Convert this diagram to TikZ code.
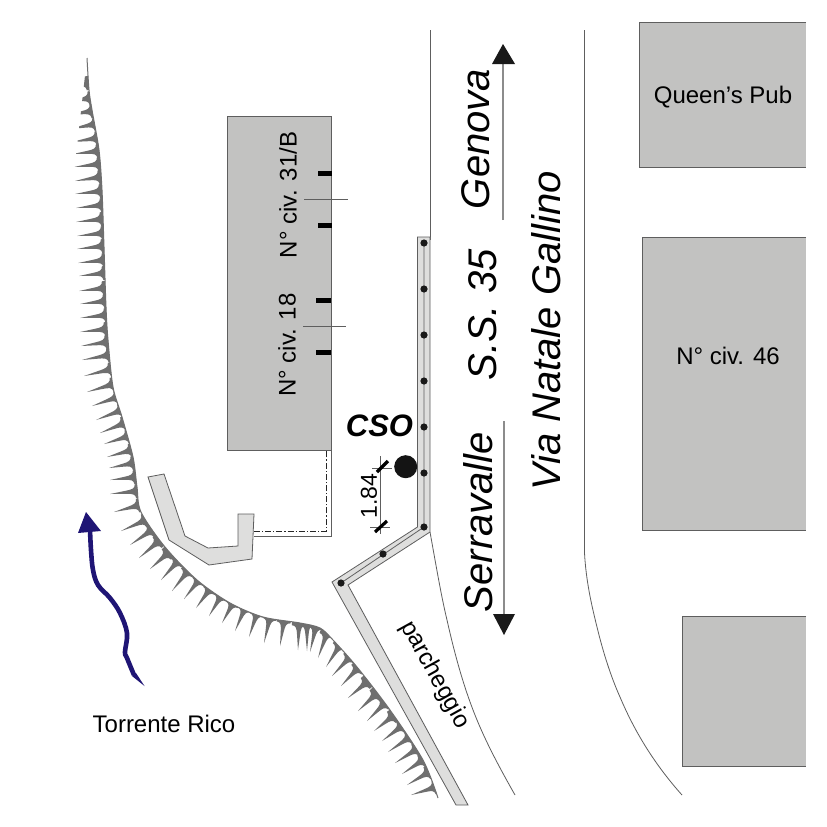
\documentclass[tikz,border=0pt]{standalone}
\usepackage{fontspec}
\setmainfont{Liberation Sans}
\usetikzlibrary{calc}
\definecolor{bldg}{HTML}{C2C2C1}
\definecolor{walk}{HTML}{DEDEDD}
\definecolor{edge}{HTML}{5E5E5E}
\definecolor{bank}{HTML}{6F6F6F}
\definecolor{river}{HTML}{1F1575}
\newcommand{\fs}[1]{\fontsize{#1}{#1}\selectfont}
\tikzset{
  x=1pt,y=-1pt,
  thinline/.style={draw=edge,line width=0.8pt},
  building/.style={fill=bldg,draw=none},
  buildedge/.style={draw=edge,line width=1pt},
  paved/.style={fill=walk,draw=edge,line width=0.8pt,line join=miter},
  doorbar/.style={draw=black,line width=5pt},
  roadarrow/.style={draw=black!45,line width=1.1pt},
  head/.style={fill=black!90,draw=none},
  label/.style={inner sep=0pt,outer sep=0pt,anchor=center},
  small/.style={label,font=\fs{24}},
  big/.style={label,font=\fs{40}\itshape},
  stud/.style={circle,fill=black!90,minimum size=7.2pt,inner sep=0pt},
}
\newcommand{\tooth}[4]{%
  \pgfmathsetmacro\dxx{#3-#1}\pgfmathsetmacro\dyy{#4-#2}%
  \pgfmathsetmacro\lenn{veclen(\dxx,\dyy)}%
  \pgfmathsetmacro\ux{\dxx/\lenn}\pgfmathsetmacro\uy{\dyy/\lenn}%
  \pgfmathsetmacro\nx{-\uy}\pgfmathsetmacro\ny{\ux}%
  \pgfmathsetmacro\ax{#1+0.55*\dxx+1.5*\nx}\pgfmathsetmacro\ay{#2+0.55*\dyy+1.5*\ny}%
  \pgfmathsetmacro\bx{#1+0.55*\dxx-1.5*\nx}\pgfmathsetmacro\by{#2+0.55*\dyy-1.5*\ny}%
  \pgfmathsetmacro\pax{#1+0.80*\dxx+2.1*\nx}\pgfmathsetmacro\pay{#2+0.80*\dyy+2.1*\ny}%
  \pgfmathsetmacro\pbx{#1+0.90*\dxx+2.8*\nx}\pgfmathsetmacro\pby{#2+0.90*\dyy+2.8*\ny}%
  \pgfmathsetmacro\qax{#1+0.80*\dxx-2.1*\nx}\pgfmathsetmacro\qay{#2+0.80*\dyy-2.1*\ny}%
  \pgfmathsetmacro\qbx{#1+0.90*\dxx-2.8*\nx}\pgfmathsetmacro\qby{#2+0.90*\dyy-2.8*\ny}%
  \pgfmathsetmacro\cx{#1+0.91*\dxx+7*\nx}\pgfmathsetmacro\cy{#2+0.91*\dyy+7*\ny}%
  \pgfmathsetmacro\ex{#1+0.91*\dxx-7*\nx}\pgfmathsetmacro\ey{#2+0.91*\dyy-7*\ny}%
  \pgfmathsetmacro\fx{#3+3*\ux+7*\nx}\pgfmathsetmacro\fy{#4+3*\uy+7*\ny}%
  \pgfmathsetmacro\gx{#3+3*\ux-7*\nx}\pgfmathsetmacro\gy{#4+3*\uy-7*\ny}%
  \fill[bank] (#1,#2) -- (\ax,\ay) .. controls (\pax,\pay) and (\pbx,\pby) .. (\cx,\cy)
     -- (\fx,\fy) -- (\gx,\gy) -- (\ex,\ey) .. controls (\qbx,\qby) and (\qax,\qay) .. (\bx,\by) -- cycle;
}
\begin{document}
\begin{tikzpicture}
\useasboundingbox (0,0) rectangle (827,827);
\fill[white] (0,0) rectangle (827,827);

% river bank
\begin{scope}
\clip (0,0) -- (87,0) -- (87,58) plot[smooth,tension=0.5] coordinates {(87,58) (89,90) (92,110) (99,150) (102,190) (104,247) (106,307) (108,340) (113,387) (122,417) (133,457) (137,487) (141,512) (165,547) (197,580) (230,603) (263,617) (300,623) (320,628) (333,640) (357,667) (390,710) (423,760) (438,798)} -- (438,827) -- (0,827) -- cycle;
\foreach \a/\b/\c/\d in {
63/87/88/83, 65/102/91/98, 67/115/93/111, 70/129/96/124, 72/142/98/138, 73/154/99/151,
74/167/100/164, 75/181/101/177, 75/194/102/191, 76/208/103/205, 76/222/103/219, 77/236/104/233,
77/249/104/246, 78/263/105/260, 79/276/105/273, 79/291/105/288, 80/304/106/301, 80/318/107/315,
80/332/107/329, 81/346/108/342, 82/360/110/355, 84/376/112/369, 87/392/114/384, 92/406/118/397,
96/420/122/410, 100/433/125/423, 104/444/129/436, 107/457/132/450, 109/468/134/463, 110/480/136/477,
110/494/138/491, 114/512/140/505, 121/531/146/520, 130/545/152/530, 139/558/159/541, 150/569/168/553,
161/580/178/561, 172/591/188/571, 184/599/199/580, 196/608/210/589, 209/616/221/596, 222/623/233/603,
235/631/245/608, 249/637/257/613, 264/643/270/617, 280/646/284/620, 298/650/299/623, 307/651/307/623,
310/652/316/626, 318/658/327/633, 326/667/340/645, 332/676/350/657, 341/686/358/668, 348/698/367/682,
358/711/376/694, 367/721/385/703, 374/731/393/716, 382/741/402/726, 388/752/410/737, 395/763/417/749,
402/774/423/760, 407/785/429/772, 411/795/436/787}
{\tooth{\a}{\b}{\c}{\d}}
\end{scope}
\draw[bank,line width=1pt] plot[smooth,tension=0.5] coordinates {(87,58) (89,90) (92,110) (99,150) (102,190) (104,247) (106,307) (108,340) (113,387) (122,417) (133,457) (137,487) (141,512) (165,547) (197,580) (230,603) (263,617) (300,623) (320,628) (333,640) (357,667) (390,710) (423,760) (438,798)};

% river arrow
\draw[river,line width=4.6pt,line join=round] plot[smooth,tension=0.6] coordinates {(134,675) (127,658) (125,652) (127,633) (120,613) (110,598) (98,585) (93,570) (91,550) (90,530)};
\fill[river] (144.5,686) -- (132,676) -- (136,673) -- cycle;
\fill[river] (86,512) -- (78,533) -- (101,531) -- cycle;

% main building
\fill[building] (227,116) rectangle (331,450);
\draw[buildedge] (227,116) rectangle (331,450);
\draw[doorbar] (318,173) -- (332,173);
\draw[doorbar] (318,225) -- (332,225);
\draw[doorbar] (316,300) -- (331,300);
\draw[doorbar] (316,352) -- (331,352);
\draw[thinline] (304,199) -- (348,199);
\draw[thinline] (303,326) -- (346,326);

% annex outline
\draw[edge,line width=1pt] (254,536) -- (331.5,536) -- (331.5,450);
\draw[black!85,line width=0.6pt,dash pattern=on 6pt off 2pt on 1.2pt off 2pt] (254,531) -- (326,531) -- (326,450);
\draw[paved] (148,477) -- (164,474) -- (185,536) -- (208,548) -- (238,546) -- (238,514) -- (254,514) -- (252,559) -- (209,565) -- (169,540) -- cycle;

% roads
\draw[thinline] (430,30) -- (430,240);
\draw[thinline] (430,532) .. controls (436,565) and (441,595) .. (447,620) .. controls (456,660) and (466,695) .. (480,727) .. controls (490,750) and (502,772) .. (515,795);
\draw[thinline] (584.5,30) -- (584.5,553) .. controls (586,580) and (591,603) .. (597,627) .. controls (603,652) and (611,677) .. (620,697) .. controls (636,735) and (657,767) .. (682,795);

% sidewalks
\draw[paved] (332,582) -- (417.5,527) -- (417.5,237) -- (430,237) -- (430,532) -- (348,585) -- (468,805) -- (456,805) -- cycle;
\draw[edge,line width=0.8pt] (424,243) -- (424,527) -- (341,583);
\foreach \y [count=\i] in {243,289,335,381,427,473,527} \node[stud] (s\i) at (424,\y) {};
\node[stud] (s8) at (383,554) {};
\node[stud] (s9) at (341,583) {};

% CSO
\node[label,font=\fs{31}\bfseries\itshape] (cso) at (379.5,426) {CSO};
\fill[black!92] (405.7,466.7) circle (11.5);

% dimension
\draw[edge,line width=0.7pt] (380,456) -- (380,534);
\draw[edge,line width=0.7pt] (372,468) -- (392,468);
\draw[edge,line width=0.7pt] (370,527) -- (390,527);
\draw[black,line width=3.2pt] (377,472) -- (388,461);
\draw[black,line width=3.2pt] (375,532) -- (387,521);
\node[small,rotate=90,font=\fs{23}] (dim) at (369,496) {1.84};

% road arrows
\draw[roadarrow] (503,220) -- (503,60);
\fill[head] (503,44) -- (492,64) -- (515,64) -- cycle;
\draw[roadarrow] (504,421) -- (504,618);
\fill[head] (504,635) -- (493,614) -- (515,614) -- cycle;

% right buildings
\fill[building] (639,22) rectangle (806,167);
\draw[buildedge] (806,22) -- (639,22) -- (639,167) -- (806,167);
\fill[building] (642,237) rectangle (806,530);
\draw[buildedge] (806,237) -- (642,237) -- (642,530) -- (806,530);
\fill[building] (682,616) rectangle (806,766);
\draw[buildedge] (806,616) -- (682,616) -- (682,766) -- (806,766);

% labels
\node[small,rotate=90] (n31) at (288,195) {N° civ. 31/B};
\node[small,rotate=90] (n18) at (287,345) {N° civ. 18};
\node[small] (qp) at (723,97.5) {Queen's Pub};
\node[small] (n46) at (728,356) {N° civ. 46};
\node[small] (tr) at (164,724) {Torrente Rico};
\node[small,rotate=-61] (pk) at (435,675) {parcheggio};
\node[big,rotate=90] (ge) at (476,139) {Genova};
\node[big,rotate=90] (ss) at (483,315) {S.S. 35};
\node[big,rotate=90] (se) at (478,522) {Serravalle};
\node[big,rotate=90] (vn) at (546,331) {Via Natale Gallino};
\end{tikzpicture}
\end{document}
